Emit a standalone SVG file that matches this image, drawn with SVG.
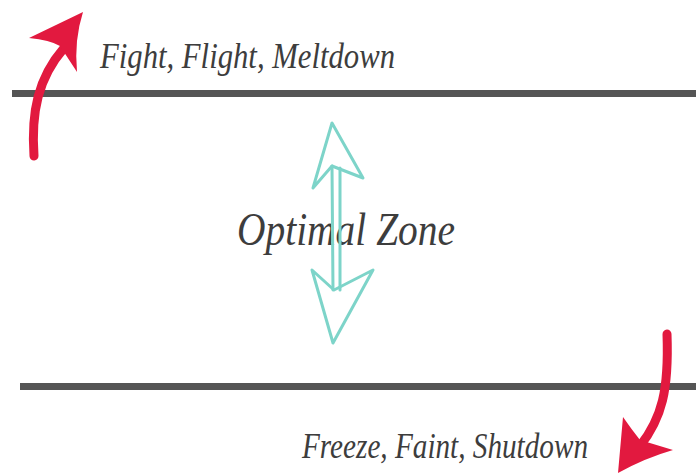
<svg xmlns="http://www.w3.org/2000/svg" width="696" height="476" viewBox="0 0 696 476">
<style>
.bar{fill:#555555}
.lbl{font-family:"Liberation Serif","DejaVu Serif",serif;font-style:italic;fill:#3d3d3d}
.red{fill:#e2193f}
.redl{fill:none;stroke:#e2193f;stroke-linecap:round}
.teal{fill:none;stroke:#7dd4c9;stroke-width:3;stroke-linejoin:round;stroke-linecap:round}
</style>
<rect width="696" height="476" fill="#ffffff"/>
<g id="bar-top"><rect class="bar" x="12" y="90" width="684" height="7"/></g>
<g id="bar-bottom"><rect class="bar" x="20" y="383" width="676" height="7"/></g>
<g id="label-top"><text class="lbl" x="100" y="68" font-size="36" textLength="295" lengthAdjust="spacingAndGlyphs">Fight, Flight, Meltdown</text></g>
<g id="label-mid"><text class="lbl" x="237" y="245" font-size="46" textLength="218" lengthAdjust="spacingAndGlyphs">Optimal Zone</text></g>
<g id="label-bottom"><text class="lbl" x="302" y="458" font-size="36" textLength="286" lengthAdjust="spacingAndGlyphs">Freeze, Faint, Shutdown</text></g>
<g id="connectors">
<g id="arrow-up">
<path class="redl" stroke-width="9" d="M34,156 C31,112 38,78 64,48"/>
<path class="red" d="M83,12 L29,38 Q50,40 60,46 L77,72 Q74,40 83,12 Z"/>
</g>
<g id="arrow-down">
<path class="redl" stroke-width="9" d="M667,334 C669,390 662,418 640,446"/>
<path class="red" d="M618,473 L623,417 Q632,430 640,440 L673,450 Q645,458 618,473 Z"/>
</g>
<g id="arrow-both">
<path class="teal" d="M332,123 L313,188 L332,166 L363,178 Z"/>
<path class="teal" d="M332,166 L333,290 M340,168 L340,290"/>
<path class="teal" d="M333,343 L312,270 L334,290 L373,270 Z"/>
</g>
</g>
</svg>
